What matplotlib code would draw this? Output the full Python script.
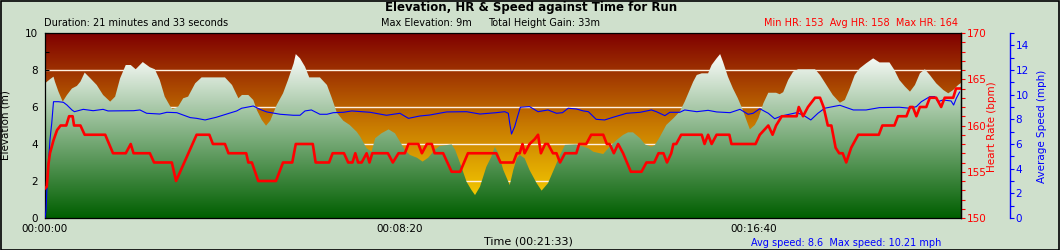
import numpy as np
import matplotlib
matplotlib.use("Agg")
import matplotlib.pyplot as plt
from matplotlib.colors import LinearSegmentedColormap
from matplotlib.ticker import MultipleLocator, FuncFormatter
from matplotlib.patches import Rectangle

# Data (time in seconds)
duration = 1293

elev_t = [0, 7, 12, 14, 19, 25, 31, 38, 45, 50, 56, 64, 73, 82, 92, 99, 106, 114, 121, 128,
          138, 148, 155, 162, 169, 177, 180, 188, 195, 202, 212, 221, 254, 264, 273, 278, 287,
          294, 299, 306, 312, 318, 327, 336, 343, 351, 354, 360, 367, 373, 388, 398, 405, 412,
          421, 430, 440, 445, 454, 461, 466, 475, 485, 494, 501, 508, 515, 525, 533, 541, 550,
          557, 574, 579, 586, 595, 602, 607, 614, 623, 630, 635, 640, 647, 656, 661, 666, 670,
          677, 684, 694, 701, 710, 720, 727, 734, 750, 767, 774, 788, 797, 807, 816, 823, 830,
          840, 847, 856, 861, 868, 877, 887, 896, 903, 908, 915, 920, 927, 936, 941, 948, 953,
          957, 964, 971, 978, 985, 990, 995, 1002, 1007, 1014, 1021, 1032, 1037, 1042, 1049,
          1056, 1063, 1087, 1094, 1103, 1112, 1122, 1129, 1136, 1143, 1150, 1159, 1169, 1178,
          1192, 1199, 1206, 1214, 1221, 1228, 1235, 1242, 1249, 1258, 1268, 1275, 1282, 1289, 1293]
elevation = [7.28, 7.5, 7.64, 7.37, 6.83, 6.29, 6.65, 7.0, 7.14, 7.37, 7.86, 7.55, 7.19, 6.65,
             6.29, 6.56, 7.55, 8.27, 8.27, 8.04, 8.43, 8.15, 8.04, 7.46, 6.56, 6.02, 5.88, 6.02,
             6.47, 6.56, 7.28, 7.6, 7.6, 7.19, 6.47, 6.65, 6.65, 6.38, 5.84, 5.3, 4.99, 5.26,
             6.11, 6.74, 7.46, 8.36, 8.86, 8.63, 8.18, 7.6, 7.6, 7.19, 6.47, 5.69, 5.26, 5.03,
             4.66, 4.39, 3.77, 3.58, 4.31, 4.58, 4.79, 4.58, 4.13, 3.68, 3.41, 3.26, 3.05, 3.26,
             3.68, 3.89, 3.98, 3.68, 2.96, 1.96, 1.51, 1.24, 1.69, 2.77, 3.31, 3.85, 3.5, 2.59,
             1.78, 2.59, 3.23, 3.41, 3.23, 2.59, 1.88, 1.48, 1.88, 2.77, 3.41, 3.95, 3.98, 3.77,
             3.58, 3.46, 3.85, 4.22, 4.49, 4.63, 4.63, 4.31, 3.98, 3.85, 3.95, 4.39, 5.03, 5.39,
             5.75, 6.29, 6.74, 7.37, 7.73, 7.82, 7.82, 8.27, 8.63, 8.86, 8.45, 7.64, 7.01, 6.47,
             5.84, 5.3, 4.79, 5.03, 5.39, 6.2, 6.77, 6.77, 6.69, 6.8, 7.46, 7.91, 8.04, 8.04,
             7.73, 7.19, 6.65, 6.23, 6.38, 7.01, 7.73, 8.09, 8.36, 8.63, 8.41, 8.41, 8.0, 7.46,
             7.1, 6.83, 7.19, 7.82, 8.04, 7.73, 7.28, 6.92, 6.74, 6.92, 7.19, 7.3]

hr_t = [0, 2.5, 5, 7, 12, 17, 22, 30, 34, 39, 41, 50, 56, 85, 96, 114, 121, 125, 148, 154,
        179, 185, 214, 232, 237, 254, 259, 284, 287, 292, 301, 326, 336, 349, 354, 378, 382,
        401, 406, 422, 428, 434, 438, 442, 447, 454, 458, 462, 467, 484, 491, 499, 508, 513,
        527, 532, 539, 546, 550, 562, 574, 586, 597, 637, 643, 661, 666, 670, 674, 677, 684,
        691, 696, 700, 706, 710, 717, 722, 727, 734, 750, 754, 764, 771, 788, 793, 797, 803,
        809, 816, 827, 842, 849, 860, 866, 873, 878, 884, 887, 891, 898, 927, 931, 936, 941,
        948, 966, 969, 1003, 1009, 1021, 1027, 1032, 1040, 1061, 1064, 1070, 1077, 1087, 1094,
        1099, 1105, 1110, 1116, 1121, 1126, 1131, 1138, 1148, 1177, 1182, 1199, 1204, 1216,
        1221, 1225, 1230, 1235, 1244, 1249, 1258, 1265, 1270, 1282, 1286, 1293]
heart_rate = [153.2, 153.4, 155.9, 157, 158.4, 159.5, 160, 160, 161, 161, 160, 160, 159, 159,
              157, 157, 158, 157, 157, 156, 156, 154, 159, 159, 158, 158, 157, 157, 156, 156,
              154, 154, 156, 156, 158, 158, 156, 156, 157, 157, 156, 156, 157, 156, 156, 157,
              156, 157, 157, 157, 156, 157, 157, 158, 158, 157, 158, 158, 157, 157, 155, 155,
              157, 157, 156, 156, 157, 157, 158, 157, 158, 158.5, 159, 157, 158, 158, 157, 157,
              156, 157, 157, 158, 158, 159, 159, 158, 158, 157, 158, 157, 155, 155, 156, 156,
              157, 157, 156, 157, 158, 158, 159, 159, 158, 159, 158, 159, 159, 158, 158, 159,
              160, 159, 160, 161, 161, 162, 161, 162, 163, 163, 162, 160, 160, 157.6, 157, 157,
              156, 157.6, 159, 159, 160, 160, 161, 161, 162, 162, 161, 162, 162, 163, 163, 162,
              163, 163, 164, 164]

speed_t = [0, 1.5, 3, 7, 9.5, 12, 19, 26, 31, 38, 41.5, 54, 68, 82, 89, 125, 134, 143.5, 162,
           172, 186, 195, 205, 214, 226, 242, 256.5, 270.6, 277.6, 294, 303.5, 313, 332, 350.5,
           360, 367, 376, 388, 398, 407, 421, 433, 459, 482, 501, 513, 529, 543, 567, 595, 614,
           637, 649, 654, 656, 658.5, 663, 667, 671, 684, 696, 710, 722, 730.5, 738.5, 750, 760,
           767, 778, 790, 802, 821, 840, 856, 863, 875, 882, 896, 903, 920, 936, 948, 967, 981,
           992.5, 999.5, 1009, 1021, 1030, 1039.5, 1061, 1070, 1081, 1091, 1100.6, 1122, 1141,
           1159, 1178, 1206, 1220.5, 1230, 1237, 1249, 1256, 1260.5, 1267.5, 1279, 1282.6,
           1286.4, 1291]
speed = [0.0, 0.65, 2.81, 6.33, 7.68, 9.43, 9.43, 9.38, 9.16, 8.76, 8.62, 8.81, 8.70, 8.81,
         8.68, 8.70, 8.76, 8.49, 8.43, 8.57, 8.54, 8.35, 8.14, 8.08, 7.95, 8.17, 8.43, 8.68,
         8.90, 9.08, 8.81, 8.60, 8.41, 8.33, 8.33, 8.68, 8.76, 8.41, 8.41, 8.54, 8.57, 8.68,
         8.57, 8.33, 8.49, 8.08, 8.27, 8.35, 8.60, 8.62, 8.43, 8.54, 8.62, 8.49, 7.68, 6.81,
         7.41, 8.22, 8.98, 9.03, 8.62, 8.76, 8.49, 8.54, 8.90, 8.84, 8.68, 8.62, 8.0, 7.95,
         8.17, 8.49, 8.57, 8.76, 8.62, 8.30, 8.57, 8.57, 8.76, 8.62, 8.73, 8.60, 8.54, 8.81,
         8.41, 8.49, 8.86, 8.49, 8.05, 8.27, 8.54, 8.35, 7.95, 8.49, 8.90, 9.14, 8.76, 8.76,
         8.95, 8.98, 8.90, 9.03, 9.43, 9.84, 9.84, 9.43, 9.57, 9.49, 9.16, 9.71, 10.21]

elev_ticks = [0, 2, 4, 6, 8, 10]
grid_levels = [2, 4, 6, 8]

bg_col = "#cfe0cc"

fig = plt.figure(figsize=(10.6, 2.5), dpi=100, facecolor=bg_col)
W, H = 1060, 250
ax = fig.add_axes([45 / W, 1 - 218 / H, 916 / W, 185 / H])
ax_sp = ax.twinx()
ax_hr = ax.twinx()

# background gradient (yellow at bottom -> dark red at top)
bg_cmap = LinearSegmentedColormap.from_list("bg", ["#ffe000", "#c87a00", "#800000"])
grad = np.linspace(0, 1, 256).reshape(-1, 1)
ax.imshow(grad, cmap=bg_cmap, origin="lower", aspect="auto",
          extent=[0, duration, 0, 10], zorder=0)

for g in grid_levels:
    ax.axhline(g, color="#fff0e0", lw=1, zorder=1)

# elevation fill: white at top -> dark green at bottom
fill_cmap = LinearSegmentedColormap.from_list("fill", ["#005f00", "#ffffff"])
poly = ax.fill_between(elev_t, elevation, 0, facecolor="none", edgecolor="none")
img = ax.imshow(grad, cmap=fill_cmap, origin="lower", aspect="auto",
                extent=[0, duration, 0, 9], zorder=2)
img.set_clip_path(poly.get_paths()[0], ax.transData)

ax.set_xlim(0, duration)
ax.set_ylim(0, 10)

# speed and HR lines
ax_sp.plot(speed_t, speed, color="#0000ff", lw=0.8)
ax_sp.set_ylim(0, 15)
ax_hr.plot(hr_t, heart_rate, color="#ff0000", lw=1.9)
ax_hr.set_ylim(150, 170)


def fmt_time(s, pos):
    s = int(round(s))
    return "%02d:%02d:%02d" % (s // 3600, (s % 3600) // 60, s % 60)


ax.xaxis.set_major_locator(MultipleLocator(500))
ax.xaxis.set_minor_locator(MultipleLocator(100))
ax.xaxis.set_major_formatter(FuncFormatter(fmt_time))
ax.tick_params(axis="x", which="major", direction="in", length=5, width=0.8,
               labelsize=7.5, pad=4)
ax.tick_params(axis="x", which="minor", direction="in", length=3, width=0.8)
ax.set_yticks(elev_ticks)
ax.yaxis.set_minor_locator(MultipleLocator(1))
ax.tick_params(axis="y", which="both", direction="in", length=3, width=0.8,
               labelsize=7.5, pad=5)
for sp in ax.spines.values():
    sp.set_linewidth(0.9)
    sp.set_zorder(5)

ax_hr.yaxis.set_major_locator(MultipleLocator(5))
ax_hr.yaxis.set_minor_locator(MultipleLocator(1))
ax_hr.tick_params(axis="y", which="both", direction="out", length=3, width=0.8,
                  colors="#ff0000", labelsize=7.5, pad=1)
for k in ["top", "bottom", "left"]:
    ax_hr.spines[k].set_visible(False)
ax_hr.spines["right"].set_linewidth(0.9)

ax_sp.spines["right"].set_position(("axes", 1.0535))
ax_sp.spines["right"].set_color("#0000ff")
ax_sp.spines["right"].set_linewidth(1)
for k in ["top", "bottom", "left"]:
    ax_sp.spines[k].set_visible(False)
ax_sp.yaxis.set_major_locator(MultipleLocator(2))
ax_sp.yaxis.set_minor_locator(MultipleLocator(1))
ax_sp.tick_params(axis="y", which="both", direction="out", length=3, width=0.8,
                  colors="#0000ff", labelsize=7.5, pad=1)


def ftext(x, y, s, **kw):
    kw.setdefault("va", "center")
    fig.text(x / W, 1 - y / H, s, **kw)


# axis titles
ftext(6, 125, "Elevation (m)", ha="center", rotation=90, fontsize=7.5)
ftext(992, 127, "Heart Rate (bpm)", ha="center", rotation=90, fontsize=7.5,
      color="#ff0000")
ftext(1042, 126, "Average Speed (mph)", ha="center", rotation=90, fontsize=7.5,
      color="#0000ff")

ftext(531, 8, "Elevation, HR & Speed against Time for Run", ha="center",
      fontsize=8.5, fontweight="bold")
ftext(44, 23, "Duration: 21 minutes and 33 seconds", ha="left", fontsize=7)
ftext(381, 23, "Max Elevation: 9m", ha="left", fontsize=7)
ftext(488, 23, "Total Height Gain: 33m", ha="left", fontsize=7)
ftext(958, 23, "Min HR: 153  Avg HR: 158  Max HR: 164", ha="right", fontsize=7,
      color="#ff0000")
ftext(528, 242, "Time (00:21:33)", ha="center", fontsize=8)
ftext(751, 243, "Avg speed: 8.6  Max speed: 10.21 mph", ha="left", fontsize=7,
      color="#0000ff")

fig.patches.append(Rectangle((0.5 / W, 0.5 / H), 1 - 1.5 / W, 1 - 1.5 / H,
                             transform=fig.transFigure, fill=False,
                             edgecolor="black", lw=1.2))

fig.savefig("out.png", dpi=100, facecolor=bg_col)
